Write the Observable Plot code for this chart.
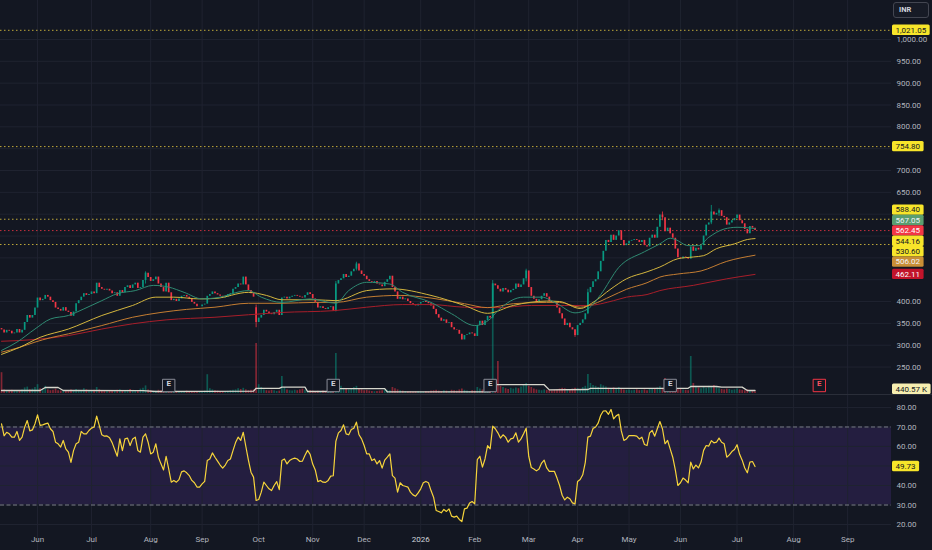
<!DOCTYPE html>
<html><head><meta charset="utf-8">
<script src="https://cdn.jsdelivr.net/npm/d3@7"></script>
<script src="https://cdn.jsdelivr.net/npm/@observablehq/plot@0.6"></script>
<style>
html,body{margin:0;padding:0;background:#131722;}
#wrap{position:relative;width:932px;height:550px;overflow:hidden;background:#131722;font-family:Roboto,"Liberation Sans",sans-serif;}
.layer{position:absolute;left:0;}
.layer svg{display:block;}
#inr{position:absolute;left:893px;top:2px;width:36px;height:16px;border:1px solid #434651;border-radius:3px;box-sizing:border-box;color:#d1d4dc;font-size:7.5px;font-weight:bold;line-height:14px;padding-left:5px;background:#171b26;}
#sep{position:absolute;left:0;top:394px;width:932px;height:1px;background:#2a2e39;}
</style></head><body><div id="wrap"></div>
<script>
// ---------- DATA ----------
const closes = [
335,328,334,332,326,328,336,328,334,352,
368,362,368,385,408,402,405,414,410,402,
398,385,382,378,386,378,375,366,376,395,
402,410,418,414,416,422,418,442,432,428,
426,428,424,418,420,412,425,420,432,436,
430,438,442,430,432,448,465,455,446,450,
456,440,432,422,442,420,402,405,400,406,
412,414,410,405,398,394,388,388,392,394,
412,416,422,418,415,412,408,410,416,418,
428,432,440,438,456,438,425,418,410,352,
362,368,380,376,372,370,375,380,368,408,
410,406,410,412,414,412,410,408,414,420,
416,406,398,385,388,384,382,386,388,378,
440,448,452,462,455,458,468,474,486,470,
462,458,450,446,444,446,440,438,434,444,
450,458,432,422,405,410,404,406,400,395,
392,390,394,398,400,398,395,390,382,370,
362,355,358,350,352,340,335,334,325,312,
322,324,328,326,320,345,355,345,356,366,
362,440,436,428,422,430,426,420,425,428,
440,432,438,452,470,432,412,405,398,404,
412,418,410,400,398,396,385,372,360,345,
350,340,335,322,345,350,358,372,420,432,
445,450,468,492,515,540,535,552,540,550,
562,540,528,532,538,540,542,540,535,540,
528,525,545,552,545,570,598,592,560,568,
555,545,520,500,498,502,500,497,525,515,
522,518,528,550,575,580,605,598,602,608,
595,592,575,580,585,590,598,585,578,565,
555,572,568,562.45];
const firstOpen = 338;
const gapOpens = [[99, 386]];
const wicks = [[56,440,468],[99,340,392],[130,376,446],[138,470,490],[191,360,448],[204,445,474],[223,318,336],[228,370,428],[257,585,605],[276,576,620],[279,595,612]];

const volumes = [ // thousands
5200,900,700,650,800,600,750,500,900,1400,
1600,900,1100,1500,2200,1200,1000,1800,900,700,
800,1100,700,600,650,500,700,900,600,1000,
800,700,1200,900,600,500,800,1500,900,700,
600,500,700,550,600,800,900,700,650,800,
1000,700,500,600,1100,1300,1900,900,700,500,
600,800,700,900,1200,800,1000,600,500,450,
400,500,600,450,500,400,500,450,400,600,
4700,1200,900,700,600,500,450,500,550,700,
800,900,1200,1000,1300,900,700,800,900,12500,
2200,1500,900,700,600,800,700,500,600,4250,
1500,900,700,600,800,700,900,1100,800,600,
700,600,500,550,500,600,450,500,600,700,
10000,2500,1800,1300,1100,900,1200,1500,1800,1000,
900,700,800,600,500,450,500,600,700,900,
800,700,1500,1200,900,700,600,500,450,500,
400,450,500,400,350,500,450,600,700,800,
600,500,700,600,500,800,700,600,900,1100,
800,600,500,700,600,1500,1100,900,800,1000,
1200,27500,2500,8000,1800,1500,1200,1000,1300,1100,
1400,1200,1600,2000,2500,1800,1500,1100,900,800,
700,900,800,700,600,800,900,1100,1300,1200,
900,1000,1100,1300,1200,1000,1500,1800,4750,2500,
2000,1800,1500,2200,1900,1600,1300,1100,1400,1200,
1500,1000,900,800,900,700,800,900,700,800,
900,700,1000,1100,1200,1400,1700,1300,3750,1100,
1000,900,1200,1200,1000,900,800,700,9250,2500,
1800,1400,1200,1500,1300,1800,1600,2000,1500,1200,
1000,900,1100,1000,800,900,1100,900,800,700,
900,700,600,440.57];
const volMA = [[0,750],[15,750],[17,1500],[22,1500],[24,750],[55,700],[60,500],[80,550],[98,600],[99,1300],[108,1300],[109,1600],[118,1600],[119,500],[129,500],[130,1200],[149,1200],[150,400],[190,400],[191,2200],[211,2200],[213,900],[228,1000],[229,1300],[267,1300],[268,1750],[278,1750],[280,1600],[288,1600],[290,750],[293,750]];

const maFast = [[0,288],[6,307],[13,337],[19,360],[26,368],[32,383],[39,402],[45,418],[52,425],[59,437],[65,433],[71,421],[78,406],[83,408],[96,425],[101,410],[109,398],[120,406],[130,396],[135,425],[142,444],[151,440],[156,421],[167,398],[175,372],[184,345],[190,360],[193,379],[203,410],[210,410],[216,395],[223,374],[228,383],[233,416],[240,478],[250,514],[256,532],[260,545],[262,542],[267,528],[271,528],[275,547],[281,566],[286,570],[290,569],[293,567.05]];
const maMid = [[0,279],[7,295],[15,318],[26,337],[39,368],[51,391],[60,410],[67,410],[77,406],[83,407],[96,421],[103,414],[109,404],[122,404],[130,402],[142,425],[152,429],[167,414],[180,391],[189,373],[199,391],[212,401],[217,400],[225,384],[230,398],[237,429],[243,452],[251,468],[256,479],[263,498],[269,502],[273,505],[278,521],[285,532],[290,542],[293,544.16]];
const maSlow = [[0,284],[7,295],[13,307],[19,317],[26,326],[39,345],[51,364],[62,375],[72,382],[83,387],[96,396],[109,396],[122,398],[130,398],[142,410],[155,414],[167,408],[180,395],[189,386],[199,395],[212,398],[217,398],[225,387],[230,394],[237,412],[243,428],[251,443],[256,456],[263,463],[272,470],[282,492],[293,506.02]];
const maLong = [[0,309],[13,313],[26,322],[39,337],[51,349],[64,358],[83,364],[109,375],[129,379],[142,387],[156,393],[167,393],[180,387],[193,386],[206,391],[219,391],[228,391],[238,402],[243,410],[251,416],[256,425],[269,437],[282,452],[293,462.11]];

const rsi = [
71.6,65.5,67.3,66.5,64.8,64.8,67.7,63.1,64.8,69.9,
73.3,68,68.5,71.6,76.2,70.8,71.1,71.6,72,69.1,
67.7,62.2,61.4,59.7,63.1,58.8,57.1,51.9,57.9,61.4,
62.2,67.7,66.5,66.5,68.2,69.4,70,75.6,70.8,66,
65.3,65.4,64.5,62,58.5,55,63.9,57.9,63.9,64.3,
60.5,63.9,64.8,58,57.1,64.8,66.5,62.2,56.2,57.1,
61.4,54.5,51.1,48,55,48.5,41.7,42.6,41.7,43,
47,47.5,46.5,45.1,42.6,41.4,39.2,39.2,40.8,42.1,
52.8,53.6,56.7,54.5,52.5,50.5,48.9,50.5,52.8,53.6,
57.9,62,64.8,63.1,67.3,60,53,46.8,44.3,32.3,
32.8,36.6,41.7,40,38.3,37.4,40,42,37.9,52.8,
53.6,51.1,52.8,53.6,54,53.6,52.3,52.5,55.5,58,
56,51,48,42,42.6,41.7,41.6,42.6,44.8,45,
62.6,67,68.2,71.1,66.5,66,68.7,69.4,72.5,66,
63.9,60.5,56.2,56.2,52.8,53.6,51.1,52.8,48.9,53,
54.5,56.2,45.1,43.8,36.6,41.4,40,39.6,39.2,36.6,
35.2,34.5,36.2,38.3,41.4,42.1,41.4,37.4,34,27.2,
26.7,26,27.7,26.7,28,24.3,23.8,24.3,22.6,21.5,
28,28.4,31,31.8,30.6,53.3,55,49.4,53.6,60.5,
58.8,70.4,69.1,67,64.3,66,64.8,62.2,63.9,64.3,
67,62.2,63.9,66.5,69.4,55,49.2,48.5,47.5,48.5,
51.5,53,49,47.2,47.2,47.2,43.8,40,35,32.6,
34,33.2,31.1,30.6,42.1,43.1,45.5,51.9,64.8,65.3,
69.2,70,72,76,78.2,78.3,76.5,79,74.2,75.7,
76.5,68,63.1,63.9,65.6,65.6,65.6,65.3,63.9,64.8,
61,60.5,67,68.2,65.3,69.1,72.8,69.1,61.4,63.1,
58.8,54.5,48,40,41.4,43.8,42.8,41.4,52,48.5,
50.5,49,52,58,60.5,60.2,63,61.9,62.2,64.3,
62.2,61.4,54.5,55.7,57.4,58.5,60.9,56,53,49,
46.5,52,52.3,49.73];

const monthLabels = ["Jun","Jul","Aug","Sep","Oct","Nov","Dec","2026","Feb","Mar","Apr","May","Jun","Jul","Aug","Sep"];
const monthIdx = [14,35,58,78,100,121,141,163,184,205,224,244,264,286,308,329];
const priceTicks = [250,300,350,400,450,500,550,600,650,700,750,800,850,900,950,1000];
const rsiTicks = [20,30,40,50,60,70,80];
const rsiBand = [30,70];
const levelLines = [1021.05, 754.80, 588.40, 530.60];
const lastClose = 562.45;
const maLast = [567.05, 544.16, 506.02, 462.11];
const lastVolume = 440.57;
const earnings = [65, 129, 190, 260];
const futureEarnings = [318];

// ---------- STYLE / LAYOUT ----------
const BG = "#131722", GRID = "#1f2330", AXIS_TXT = "#b2b5be";
const UP = "#089981", DOWN = "#f23645";
const UPA = "rgba(8,153,129,0.5)", DOWNA = "rgba(242,54,69,0.5)";
const YEL = "#f7e52a";
const fmt = d3.format(",.2f");
const xDomain = [-0.4, 346.06];
const yPrice = [187.1, 1089.3];
const yRsi = [6.67, 86.15];
const W = 932, H1 = 394, H2 = 155, MR = 41;
const LH = 10.4, LX = W - MR + 1;

const candles = closes.map((c, i) => {
  const g = gapOpens.find(d => d[0] === i);
  const o = g ? g[1] : (i === 0 ? firstOpen : closes[i - 1]);
  return {i, o, c, vol: volumes[i], up: c >= o};
});
const wickData = wicks.map(([i, lo, hi]) => ({i, lo, hi, up: candles[i].up}));
const months = monthLabels.map((label, k) => ({label, i: monthIdx[k]}));

// label layout (stacking of the right-axis value tags)
function layout(items) {
  items.sort((a, b) => a.y0 - b.y0);
  let cl = items.map(d => ({items: [d], sum: d.y0}));
  let merged = true;
  while (merged) {
    merged = false;
    for (let k = 0; k < cl.length - 1; k++) {
      const a = cl[k], b = cl[k + 1];
      const am = a.sum / a.items.length, bm = b.sum / b.items.length;
      if (am + a.items.length * LH / 2 > bm - b.items.length * LH / 2) {
        cl.splice(k, 2, {items: a.items.concat(b.items), sum: a.sum + b.sum});
        merged = true; break;
      }
    }
  }
  cl.forEach(c => {
    const n = c.items.length, m = c.sum / n;
    c.items.forEach((d, j) => d.y = m - n * LH / 2 + LH / 2 + j * LH);
  });
}
function drawLabels(svg, items) {
  const g = d3.select(svg).append("g").attr("font-size", 8).attr("text-anchor", "start")
    .attr("font-family", "Roboto, 'Liberation Sans', sans-serif");
  items.forEach(d => {
    const r = g.append("rect").attr("x", LX).attr("y", d.y - LH / 2).attr("height", LH).attr("rx", 1.5).attr("fill", d.bg);
    const t = g.append("text").attr("x", LX + 3.5).attr("y", d.y).attr("dy", "0.35em").attr("text-anchor", "start").attr("fill", d.fg).text(d.text);
    const w = t.node().getComputedTextLength() + 7;
    r.attr("width", w);
  });
}

const wrap = document.getElementById("wrap");
function addLayer(svg, top) {
  const div = document.createElement("div");
  div.className = "layer"; div.style.top = top + "px";
  div.appendChild(svg); wrap.appendChild(div);
  return svg;
}
const base = {
  width: W, height: H1, marginLeft: 0, marginRight: MR, marginTop: 0, marginBottom: 0,
  x: {domain: xDomain, axis: null},
  color: {type: "identity"},
  style: {background: "transparent", fontFamily: "Roboto, 'Liberation Sans', sans-serif", fontSize: "8px", overflow: "visible"}
};

// price tags positions (computed with the same linear y scale as the price layers)
const yPriceScale = Plot.scale({y: {domain: yPrice, range: [H1, 0]}});
const maColors = [["#5a9e6f", "#f0f3fa"], [YEL, "#131722"], ["#c98f36", "#f0f3fa"], ["#c2142b", "#ffffff"]];
const priceItems = [
  ...levelLines.map(v => ({v, bg: YEL, fg: "#131722"})),
  {v: lastClose, bg: DOWN, fg: "#ffffff"},
  ...maLast.map((v, k) => ({v, bg: maColors[k][0], fg: maColors[k][1]}))
].map(d => ({...d, text: fmt(d.v), y0: yPriceScale.apply(d.v)}));
layout(priceItems);
const visiblePriceTicks = priceTicks.filter(t => {
  const y = yPriceScale.apply(t);
  return !priceItems.some(d => Math.abs(d.y - y) < LH / 2 + 2);
});
const yRsiScale = Plot.scale({y: {domain: yRsi, range: [H2, 0]}});
const lastRsi = rsi[rsi.length - 1];
const visibleRsiTicks = rsiTicks.filter(t => Math.abs(yRsiScale.apply(t) - yRsiScale.apply(lastRsi)) > LH / 2 + 2);

// Layer 1: grid + price axis
const p1 = Plot.plot({
  ...base, y: {domain: yPrice, axis: null},
  marks: [
    Plot.ruleY(priceTicks, {y: d => d, stroke: GRID}),
    Plot.ruleX(months, {x: "i", stroke: GRID}),
    Plot.text(visiblePriceTicks, {y: d => d, text: d => fmt(d), frameAnchor: "right", dx: 5, textAnchor: "start", fill: AXIS_TXT, fontSize: 8})
  ]
});
addLayer(p1, 0);

// Layer 2: volume
const p2 = Plot.plot({
  ...base, marginBottom: 1, y: {domain: [0, 98250], axis: null},
  marks: [
    Plot.ruleX(candles, {x: "i", y1: 0, y2: "vol", stroke: d => d.up ? UPA : DOWNA, strokeWidth: 1.7}),
    Plot.line(volMA, {x: d => d[0], y: d => d[1], stroke: "#d6d6cc", strokeWidth: 1.3}),
    Plot.dot(earnings, {x: d => d, frameAnchor: "bottom", dy: -8, symbol: "square", r: 7, fill: BG, stroke: "#8a8d97", strokeWidth: 1}),
    Plot.text(earnings, {x: d => d, frameAnchor: "bottom", dy: -8, text: () => "E", fill: "#d1d4dc", fontSize: 8, fontWeight: "bold"}),
    Plot.dot(futureEarnings, {x: d => d, frameAnchor: "bottom", dy: -8, symbol: "square", r: 7, fill: BG, stroke: DOWN, strokeWidth: 1}),
    Plot.text(futureEarnings, {x: d => d, frameAnchor: "bottom", dy: -8, text: () => "E", fill: "#f7525f", fontSize: 8, fontWeight: "bold"})
  ]
});
addLayer(p2, 0);

// Layer 3: price
const p3 = Plot.plot({
  ...base, y: {domain: yPrice, axis: null},
  marks: [
    Plot.ruleY(levelLines, {y: d => d, stroke: "#bfa93a", strokeDasharray: "1.5,2.5", strokeWidth: 1}),
    Plot.ruleY([lastClose], {y: d => d, stroke: DOWN, strokeOpacity: 0.8, strokeDasharray: "1.5,2.5", strokeWidth: 1}),
    Plot.ruleX(wickData, {x: "i", y1: "lo", y2: "hi", stroke: d => d.up ? UP : DOWN, strokeWidth: 0.8}),
    Plot.ruleX(candles, {x: "i", y1: "o", y2: "c", stroke: d => d.up ? UP : DOWN, strokeWidth: 1.7}),
    Plot.line(maLong, {x: d => d[0], y: d => d[1], stroke: "#a81e2a", strokeWidth: 1, curve: "monotone-x"}),
    Plot.line(maSlow, {x: d => d[0], y: d => d[1], stroke: "#c47d32", strokeWidth: 1, curve: "monotone-x"}),
    Plot.line(maMid, {x: d => d[0], y: d => d[1], stroke: "#d4b63e", strokeWidth: 1, curve: "monotone-x"}),
    Plot.line(maFast, {x: d => d[0], y: d => d[1], stroke: "#2f8a72", strokeWidth: 1, curve: "monotone-x"})
  ]
});
addLayer(p3, 0);

// RSI pane
const p4 = Plot.plot({
  ...base, height: H2, y: {domain: yRsi, axis: null},
  marks: [
    Plot.rect([rsiBand], {x1: () => xDomain[0], x2: () => xDomain[1], y1: d => d[0], y2: d => d[1], fill: "rgba(103,58,183,0.2)"}),
    Plot.ruleY(rsiTicks, {y: d => d, stroke: GRID}),
    Plot.ruleX(months, {x: "i", stroke: GRID}),
    Plot.ruleY(rsiBand, {y: d => d, stroke: "#787b86", strokeDasharray: "4,2.5", strokeWidth: 1}),
    Plot.line(rsi, {x: (d, i) => i, y: d => d, stroke: "#f7d53b", strokeWidth: 1.2}),
    Plot.text(visibleRsiTicks, {y: d => d, text: d => fmt(d), frameAnchor: "right", dx: 5, textAnchor: "start", fill: AXIS_TXT, fontSize: 8}),
    Plot.text(months, {x: "i", text: "label", frameAnchor: "bottom", dy: -9, fill: d => d.label === "2026" ? "#d1d4dc" : AXIS_TXT, fontSize: 8, fontWeight: d => d.label === "2026" ? "bold" : "normal"})
  ]
});
addLayer(p4, 395);

const sep = document.createElement("div"); sep.id = "sep"; wrap.appendChild(sep);
const inr = document.createElement("div"); inr.id = "inr"; inr.textContent = "INR"; wrap.appendChild(inr);

// right-axis tags
drawLabels(p3, priceItems);
const yv = p2.scale("y");
drawLabels(p2, [{text: d3.format(".2f")(lastVolume) + " K", bg: "#f6eeb0", fg: "#131722", y: Math.min(yv.apply(lastVolume), H1 - LH / 2)}]);
drawLabels(p4, [{text: fmt(lastRsi), bg: YEL, fg: "#131722", y: yRsiScale.apply(lastRsi)}]);
</script></body></html>
